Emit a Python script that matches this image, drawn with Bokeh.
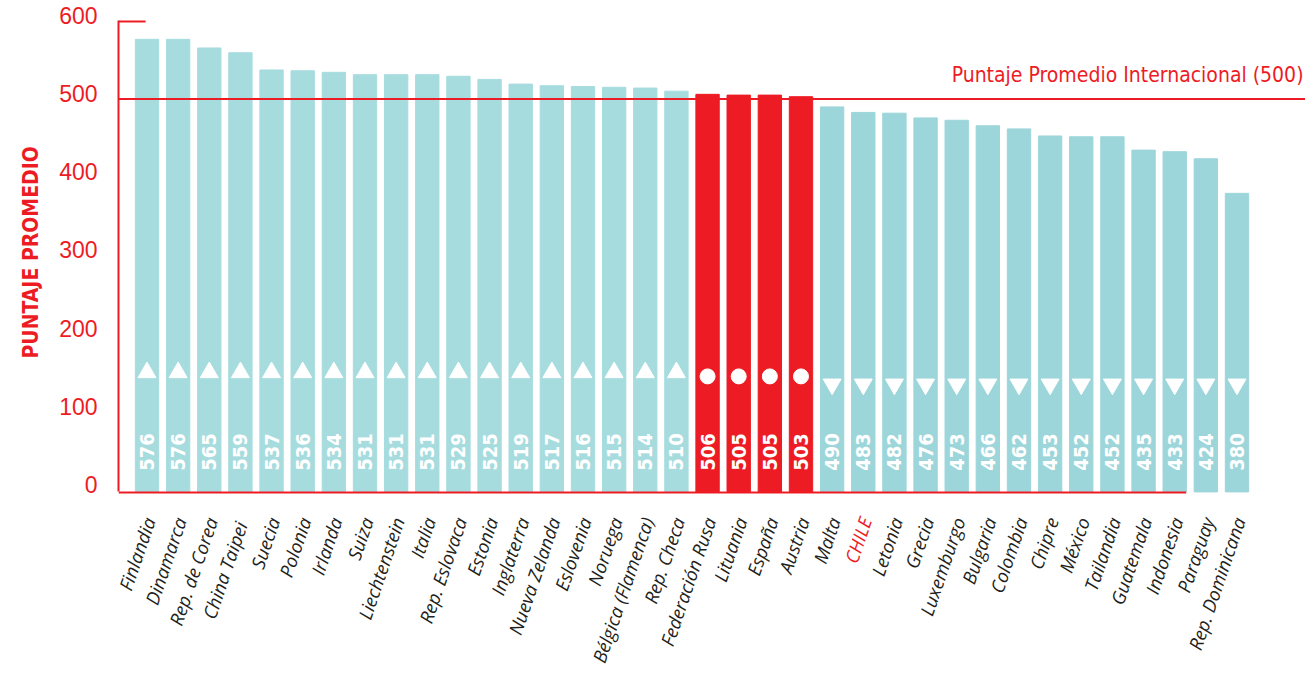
import math
from bokeh.plotting import figure
from bokeh.models import ColumnDataSource, Range1d, FixedTicker, Label, LinearAxis, Title
from bokeh.embed import file_html
from bokeh.resources import INLINE
from bokeh.core.properties import value

# ---------------- data ----------------
countries = ["Finlandia", "Dinamarca", "Rep. de Corea", "China  Taipei", "Suecia", "Polonia",
             "Irlanda", "Suiza", "Liechtenstein", "Italia", "Rep. Eslovaca", "Estonia",
             "Inglaterra", "Nueva Zelanda", "Eslovenia", "Noruega", "Bélgica (Flamenca)",
             "Rep. Checa", "Federación Rusa", "Lituania", "España", "Austria", "Malta",
             "CHILE", "Letonia", "Grecia", "Luxemburgo", "Bulgaria", "Colombia", "Chipre",
             "México", "Tailandia", "Guatemala", "Indonesia", "Paraguay", "Rep. Dominicana"]
scores = [576, 576, 565, 559, 537, 536, 534, 531, 531, 531, 529, 525, 519, 517, 516, 515, 514,
          510, 506, 505, 505, 503, 490, 483, 482, 476, 473, 466, 462, 453, 452, 452, 435, 433,
          424, 380]
groups = ["above"] * 18 + ["similar"] * 4 + ["below"] * 14
y_ticks = [0, 100, 200, 300, 400, 500, 600]
international_mean = 500
reference_text = "Puntaje Promedio Internacional (500)"
y_title = "PUNTAJE PROMEDIO"
highlight = "CHILE"

# ---------------- styles / layout ----------------
RED = "#ED1C24"
bar_colors = {"above": "#A7DCDF", "similar": RED, "below": "#9DD6DA"}
markers = {"above": "triangle", "similar": "circle", "below": "inverted_triangle"}
marker_sizes = {"above": 18, "similar": 15, "below": 18}
marker_y = {"above": 152, "similar": 147, "below": 137}
NARROW = "'Liberation Sans Narrow', 'DejaVu Sans Condensed', sans-serif"

W, H = 1305, 680
FRAME_TOP, FRAME_BOTTOM, FRAME_LEFT = 6, 680, 118
ZERO_PX, PX_PER_UNIT = 491.4, 0.7857          # value scale of the bars
LAB_ZERO_PX, LAB_PX_PER_UNIT = 484.0, 0.782   # tick-label scale (labels sit slightly high)
AXIS_TOP_PX = 20

y_end = (ZERO_PX - FRAME_TOP) / PX_PER_UNIT
y_start = (ZERO_PX - FRAME_BOTTOM) / PX_PER_UNIT
lab_end = (LAB_ZERO_PX - FRAME_TOP) / LAB_PX_PER_UNIT
lab_start = (LAB_ZERO_PX - FRAME_BOTTOM) / LAB_PX_PER_UNIT
axis_bounds = ((LAB_ZERO_PX - ZERO_PX) / LAB_PX_PER_UNIT, (LAB_ZERO_PX - AXIS_TOP_PX) / LAB_PX_PER_UNIT)
top_value = (ZERO_PX - AXIS_TOP_PX - 1) / PX_PER_UNIT

x = list(range(len(countries)))
src = ColumnDataSource(dict(
    x=x,
    score=scores,
    label=[str(s) for s in scores],
    country=countries,
    color=[bar_colors[g] for g in groups],
    marker=[markers[g] for g in groups],
    msize=[marker_sizes[g] for g in groups],
    my=[marker_y[g] for g in groups],
    tcolor=[RED if c == highlight else "#231F20" for c in countries],
))

x_start, x_end = -0.915, 37.2
p = figure(width=W, height=H, x_range=Range1d(x_start, x_end), y_range=Range1d(y_start, y_end),
           output_backend="svg", toolbar_location=None, x_axis_location=None, y_axis_location=None,
           min_border_left=FRAME_LEFT, min_border_right=0, min_border_top=FRAME_TOP,
           min_border_bottom=H - FRAME_BOTTOM)
p.outline_line_color = None
p.grid.visible = False
p.background_fill_color = "white"
p.border_fill_color = "white"

# y axis on its own label range
p.extra_y_ranges = {"lab": Range1d(lab_start, lab_end)}
ya = LinearAxis(y_range_name="lab", bounds=axis_bounds, ticker=FixedTicker(ticks=y_ticks))
ya.axis_line_color = RED
ya.axis_line_width = 2
ya.major_tick_line_color = None
ya.minor_tick_line_color = None
ya.major_label_standoff = 15
ya.major_label_text_color = RED
ya.major_label_text_font = "'Liberation Sans', Arial, sans-serif"
ya.major_label_text_font_size = "23px"
p.add_layout(ya, "left")

p.add_layout(Title(text=y_title, align="left", offset=322, standoff=27, text_color=RED,
                   text_font=NARROW, text_font_style="bold", text_font_size="21px"), "left")

# bars
p.vbar(x="x", top="score", bottom=0, width=0.75, color="color", source=src)

# markers
p.scatter(x="x", y="my", marker="marker", size="msize", color="white", source=src)

# values inside bars
p.text(x="x", y=27, text="label", angle=math.pi / 2, text_align="left", text_baseline="middle",
       text_color="white", text_font=value(NARROW), text_font_style="bold",
       text_font_size="20px", source=src)

# reference line
p.segment(x0=[x_start], y0=[international_mean], x1=[x_end], y1=[international_mean],
          line_color=RED, line_width=2)
p.add_layout(Label(x=x_end, y=international_mean, text=reference_text, text_align="right",
                   text_baseline="bottom", x_offset=-2, y_offset=12, text_color=RED,
                   text_font=NARROW, text_font_size="21px"))

# axis decorations: top cap and bottom base line
p.segment(x0=[x_start], y0=[top_value], x1=[x_start + 0.87], y1=[top_value], line_color=RED, line_width=2)
p.segment(x0=[x_start], y0=[-0.8], x1=[33.37], y1=[-0.8], line_color=RED, line_width=2)

# category labels
p.text(x="x", y=0, text="country", source=src, angle=1.24, text_align="right",
       text_baseline="middle", x_offset=2, y_offset=26,
       text_color="tcolor", text_font=value("Open Sans"),
       text_font_style="italic", text_font_size="18.5px")

open("out.html", "w").write(file_html(p, INLINE))
